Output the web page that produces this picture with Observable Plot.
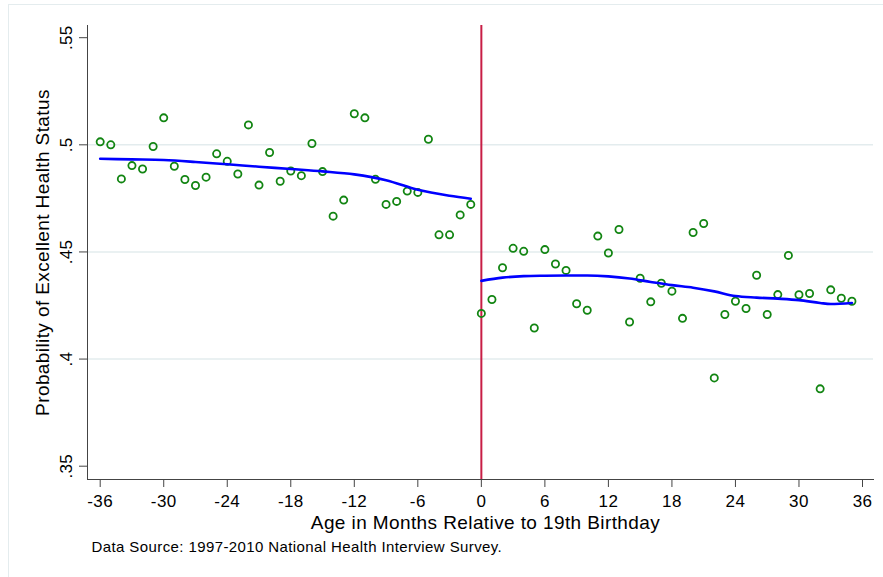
<!DOCTYPE html>
<html><head><meta charset="utf-8">
<script src="https://cdn.jsdelivr.net/npm/d3@7"></script>
<script src="https://cdn.jsdelivr.net/npm/@observablehq/plot@0.6"></script>
<style>
body{margin:0;background:#fff;}
#wrap{position:relative;width:883px;height:577px;overflow:hidden;}
#border{position:absolute;left:8px;top:4px;width:900px;height:600px;border-top:1.5px solid #e4ecee;border-left:1.5px solid #e4ecee;}
#wrap svg{display:block;position:absolute;left:0;top:0;}
#wrap svg text{letter-spacing:0.4px;}
#wrap svg g[aria-label="tick-labels"] text{letter-spacing:0.9px;}
</style></head><body><div id="wrap"><div id="border"></div></div>
<script>
// Months relative to 19th birthday
const monthsBefore = [-36,-35,-34,-33,-32,-31,-30,-29,-28,-27,-26,-25,-24,-23,-22,-21,-20,-19,-18,-17,-16,-15,-14,-13,-12,-11,-10,-9,-8,-7,-6,-5,-4,-3,-2,-1];
const probBefore = [0.5014,0.5000,0.4841,0.4903,0.4887,0.4992,0.5126,0.4900,0.4838,0.4810,0.4849,0.4958,0.4923,0.4864,0.5093,0.4812,0.4964,0.4830,0.4878,0.4856,0.5006,0.4875,0.4667,0.4742,0.5145,0.5126,0.4839,0.4722,0.4736,0.4784,0.4778,0.5026,0.4580,0.4580,0.4673,0.4722];
const monthsAfter = [0,1,2,3,4,5,6,7,8,9,10,11,12,13,14,15,16,17,18,19,20,21,22,23,24,25,26,27,28,29,30,31,32,33,34,35];
const probAfter = [0.4213,0.4278,0.4426,0.4517,0.4503,0.4145,0.4511,0.4444,0.4414,0.4258,0.4228,0.4574,0.4495,0.4605,0.4173,0.4377,0.4267,0.4354,0.4317,0.4190,0.4591,0.4633,0.3912,0.4208,0.4270,0.4236,0.4391,0.4208,0.4301,0.4484,0.4300,0.4306,0.3861,0.4323,0.4284,0.4270];

// Smoothed (lowess) fit
const fitMonthsBefore = [-36,-33,-30,-27,-24,-21,-18,-15,-12,-9,-6,-3,-1];
const fitBefore = [0.4935,0.4932,0.4929,0.4920,0.4909,0.4898,0.4887,0.4876,0.4862,0.4835,0.4790,0.4762,0.4748];
const fitMonthsAfter = [0,2,4,6,8,10,12,14,16,18,20,22,24,26,28,30,32,33,35];
const fitAfter = [0.4365,0.4380,0.4387,0.4389,0.4390,0.4390,0.4386,0.4376,0.4360,0.4345,0.4333,0.4316,0.4294,0.4287,0.4282,0.4275,0.4262,0.4257,0.4262];

const xTicks = [-36,-30,-24,-18,-12,-6,0,6,12,18,24,30,36];
const yTicks = [0.35,0.4,0.45,0.5,0.55];
const yGrid = [0.4,0.45,0.5];
const cutoff = [0];

const yLabel = "Probability of Excellent Health Status";
const xLabel = "Age in Months Relative to 19th Birthday";
const source = "Data Source: 1997-2010 National Health Interview Survey.";

const points = monthsBefore.map((m,i)=>({m, p: probBefore[i]}))
  .concat(monthsAfter.map((m,i)=>({m, p: probAfter[i]})));
const fitL = fitMonthsBefore.map((m,i)=>({m, p: fitBefore[i]}));
const fitR = fitMonthsAfter.map((m,i)=>({m, p: fitAfter[i]}));

const fmtY = d => String(d).replace(/^0\./, ".");
const font = "'Liberation Sans', Arial, Helvetica, sans-serif";
const chart = Plot.plot({
  width: 883, height: 577,
  marginLeft: 87, marginRight: 10, marginTop: 25, marginBottom: 98,
  style: {fontFamily: font, fontSize: "16px", background: "transparent", color: "#000"},
  x: {domain: [-36, 36], range: [99.7, 862]},
  y: {domain: [0.35, 0.55], range: [465.7, 37.2]},
  marks: [
    Plot.gridY(yGrid, {stroke: "#e3ecee", strokeOpacity: 1, strokeWidth: 1.5}),
    Plot.ruleX(cutoff, {stroke: "#c81e45", strokeWidth: 2}),
    Plot.dot(points, {x: "m", y: "p", r: 3.6, stroke: "#128512", strokeWidth: 1.8, fill: "none"}),
    Plot.line(fitL, {x: "m", y: "p", stroke: "#0000ff", strokeWidth: 2.6, curve: "monotone-x"}),
    Plot.line(fitR, {x: "m", y: "p", stroke: "#0000ff", strokeWidth: 2.6, curve: "monotone-x"}),
    Plot.frame({anchor: "left", stroke: "#444"}),
    Plot.frame({anchor: "bottom", stroke: "#444"}),
    Plot.axisY(yTicks, {tickSize: 8, tickFormat: () => "", label: null, stroke: "#444"}),
    Plot.axisX(xTicks, {tickSize: 8, tickFormat: () => "", label: null, stroke: "#444"}),
    Plot.text(xTicks, {x: d => d, text: d => String(d), frameAnchor: "bottom", textAnchor: "middle", lineAnchor: "middle",
      dy: 22.3, fontSize: 17, fill: "#000", ariaLabel: "tick-labels"}),
    Plot.text(yTicks, {y: d => d, text: fmtY, frameAnchor: "left", rotate: -90, textAnchor: "middle", lineAnchor: "middle",
      dx: -20.5, fontSize: 17, fill: "#000", ariaLabel: "tick-labels"}),
    Plot.text([yLabel], {frameAnchor: "left", rotate: -90, textAnchor: "middle", lineAnchor: "middle", dx: -45, fontSize: 19, fill: "#000"}),
    Plot.text([xLabel], {frameAnchor: "bottom", textAnchor: "middle", lineAnchor: "middle", dx: 5, dy: 43, fontSize: 19, fill: "#000"}),
    Plot.text([source], {frameAnchor: "bottom-left", textAnchor: "start", lineAnchor: "middle", dx: 4, dy: 67.5, fontSize: 15, fill: "#000"})
  ]
});
document.getElementById("wrap").appendChild(chart);
</script>
</body></html>
